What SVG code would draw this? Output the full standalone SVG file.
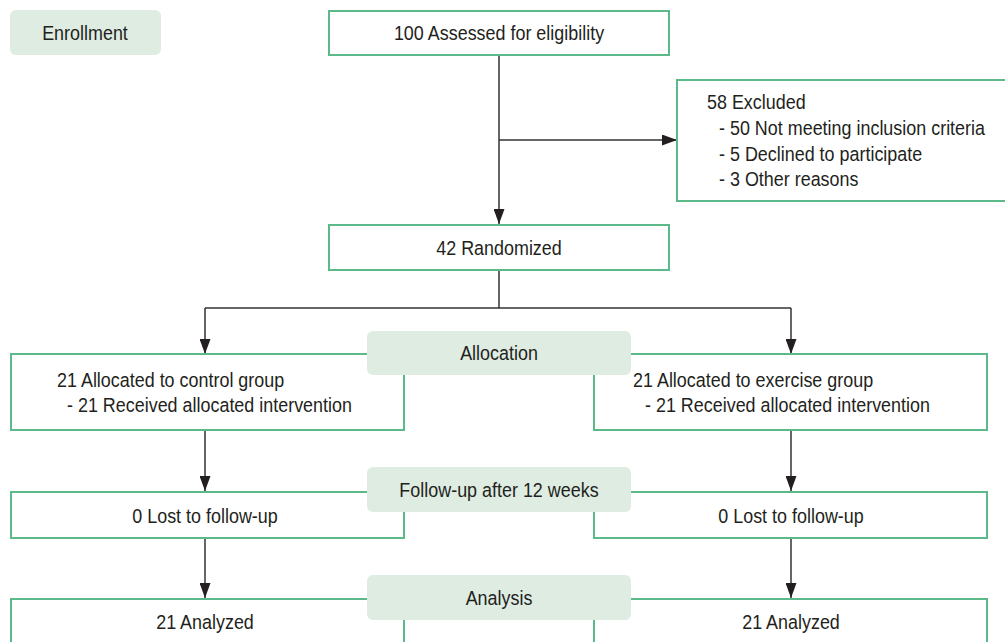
<svg xmlns="http://www.w3.org/2000/svg" width="1005" height="642" viewBox="0 0 1005 642">
<style>
.box{fill:#ffffff;stroke:#5cb98a;stroke-width:2}
.lab{fill:#deece2;stroke:none}
text{font-family:"Liberation Sans",Arial,sans-serif;font-size:19.5px;fill:#231f20}
.c{text-anchor:middle}
.ln{stroke:#333333;stroke-width:1.5;fill:none}
</style>
<defs>
<marker id="ahl" viewBox="0 0 15 11" refX="15" refY="5.5" markerWidth="15" markerHeight="11" markerUnits="userSpaceOnUse" orient="auto">
<path d="M0,0 L15,5.5 L0,11 z" fill="#231f20"/>
</marker>
</defs>
<g id="connectors">
<path class="ln" d="M499,55 V224" marker-end="url(#ahl)"/>
<path class="ln" d="M499,140 H677" marker-end="url(#ahl)"/>
<path class="ln" d="M499,270 V308"/>
<path class="ln" d="M205,308 H791"/>
<path class="ln" d="M205,308 V354" marker-end="url(#ahl)"/>
<path class="ln" d="M791,308 V354" marker-end="url(#ahl)"/>
<path class="ln" d="M205,430 V491" marker-end="url(#ahl)"/>
<path class="ln" d="M791,430 V491" marker-end="url(#ahl)"/>
<path class="ln" d="M205,538 V598" marker-end="url(#ahl)"/>
<path class="ln" d="M791,538 V598" marker-end="url(#ahl)"/>
</g>
<g id="assessed">
<rect class="box" x="329" y="11" width="340" height="44"/>
<text class="c" transform="translate(499 40) scale(0.92 1)">100 Assessed for eligibility</text>
</g>
<g id="excluded">
<rect class="box" x="677" y="80" width="340" height="121"/>
<text transform="translate(707 109) scale(0.92 1)">58 Excluded</text>
<text transform="translate(719 135) scale(0.92 1)">- 50 Not meeting inclusion criteria</text>
<text transform="translate(719 161) scale(0.92 1)">- 5 Declined to participate</text>
<text transform="translate(719 186) scale(0.92 1)">- 3 Other reasons</text>
</g>
<g id="randomized">
<rect class="box" x="329" y="225" width="340" height="45"/>
<text class="c" transform="translate(499 255) scale(0.92 1)">42 Randomized</text>
</g>
<g id="alloc-control">
<rect class="box" x="11" y="354" width="393" height="76"/>
<text transform="translate(57 387) scale(0.92 1)">21 Allocated to control group</text>
<text transform="translate(67 412) scale(0.92 1)">- 21 Received allocated intervention</text>
</g>
<g id="alloc-exercise">
<rect class="box" x="594" y="354" width="393" height="76"/>
<text transform="translate(633 387) scale(0.92 1)">21 Allocated to exercise group</text>
<text transform="translate(645 412) scale(0.92 1)">- 21 Received allocated intervention</text>
</g>
<g id="lost-control">
<rect class="box" x="11" y="492" width="393" height="46"/>
<text class="c" transform="translate(205 523) scale(0.92 1)">0 Lost to follow-up</text>
</g>
<g id="lost-exercise">
<rect class="box" x="594" y="492" width="393" height="46"/>
<text class="c" transform="translate(791 523) scale(0.92 1)">0 Lost to follow-up</text>
</g>
<g id="analyzed-control">
<rect class="box" x="11" y="599" width="393" height="50"/>
<text class="c" transform="translate(205 629) scale(0.92 1)">21 Analyzed</text>
</g>
<g id="analyzed-exercise">
<rect class="box" x="594" y="599" width="393" height="50"/>
<text class="c" transform="translate(791 629) scale(0.92 1)">21 Analyzed</text>
</g>
<g id="enrollment-label">
<rect class="lab" x="10" y="10" width="151" height="45" rx="6"/>
<text class="c" transform="translate(85 40) scale(0.92 1)">Enrollment</text>
</g>
<g id="allocation-label">
<rect class="lab" x="367" y="331" width="264" height="44" rx="6"/>
<text class="c" transform="translate(499 360) scale(0.92 1)">Allocation</text>
</g>
<g id="followup-label">
<rect class="lab" x="367" y="467" width="264" height="45" rx="6"/>
<text class="c" transform="translate(499 497) scale(0.92 1)">Follow-up after 12 weeks</text>
</g>
<g id="analysis-label">
<rect class="lab" x="367" y="575" width="264" height="45" rx="6"/>
<text class="c" transform="translate(499 605) scale(0.92 1)">Analysis</text>
</g>
</svg>
